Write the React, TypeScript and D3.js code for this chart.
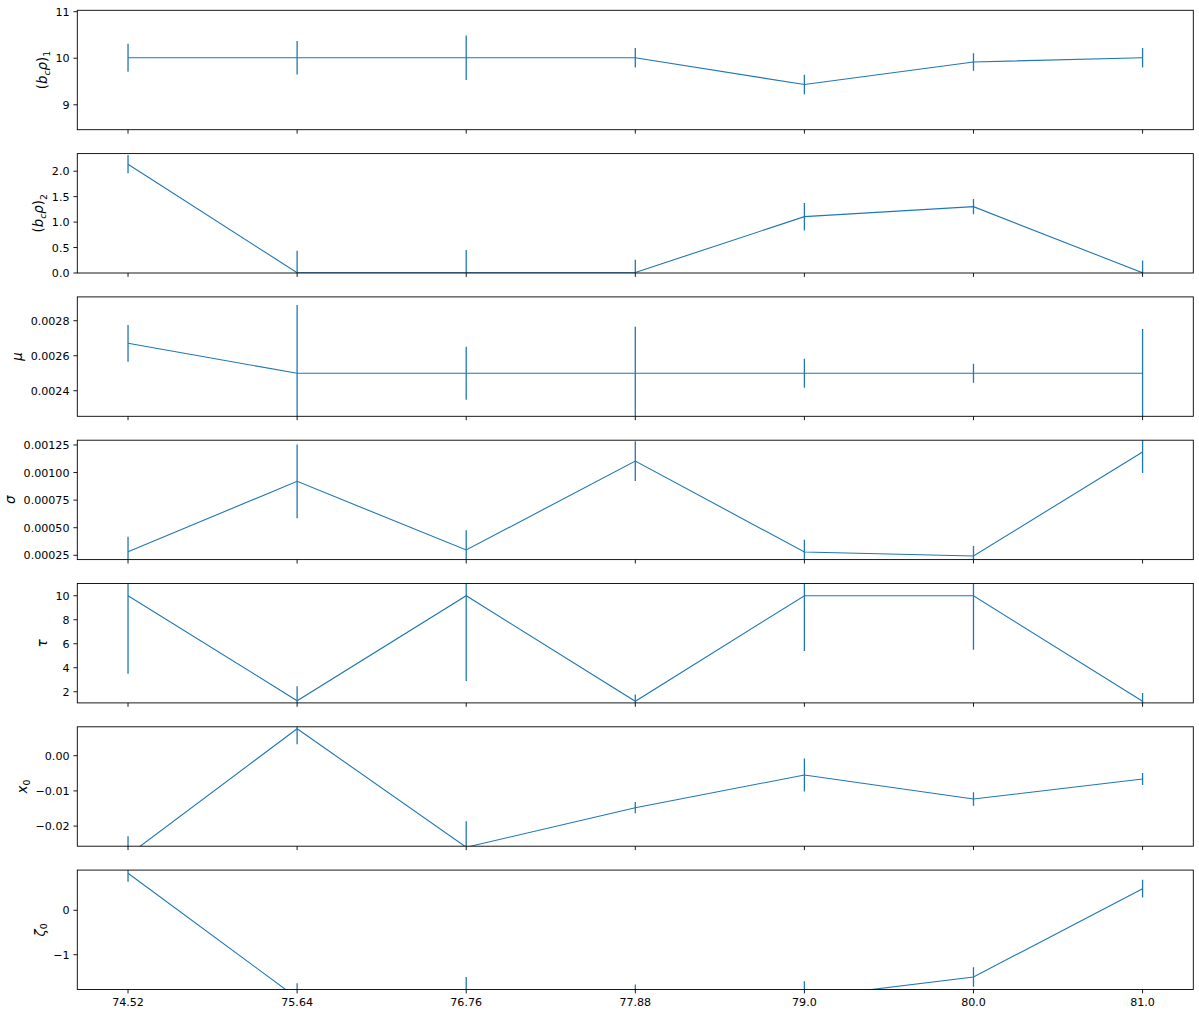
import React from 'react';
import * as d3 from 'd3';

// ---- data ----
const xLabels = ['74.52', '75.64', '76.76', '77.88', '79.0', '80.0', '81.0'];

const bcRho1 = [10.01, 10.01, 10.01, 10.01, 9.435, 9.92, 10.01];
const bcRho1Err = [0.3, 0.36, 0.48, 0.21, 0.21, 0.19, 0.21];
const bcRho1Domain = [8.465, 11.03];
const bcRho1Ticks = [9, 10, 11];
const bcRho1TickLabels = ['9', '10', '11'];

const bcRho2 = [2.137, 0.005, 0.003, 0.01, 1.107, 1.303, 0.004];
const bcRho2Err = [0.18, 0.43, 0.45, 0.25, 0.27, 0.15, 0.24];
const bcRho2Domain = [0, 2.345];
const bcRho2Ticks = [0, 0.5, 1, 1.5, 2];
const bcRho2TickLabels = ['0.0', '0.5', '1.0', '1.5', '2.0'];

const mu = [0.002671, 0.0025, 0.0025, 0.0025, 0.0025, 0.0025, 0.0025];
const muErr = [0.000105, 0.00039, 0.000151, 0.000265, 0.000083, 0.000054, 0.000253];
const muDomain = [0.002254, 0.002936];
const muTicks = [0.0024, 0.0026, 0.0028];
const muTickLabels = ['0.0024', '0.0026', '0.0028'];

const sigma = [0.000283, 0.00092, 0.000298, 0.001104, 0.00028, 0.000244, 0.001186];
const sigmaErr = [0.000136, 0.000335, 0.00018, 0.00018, 0.00011, 0.00009, 0.00019];
const sigmaDomain = [0.000211, 0.001293];
const sigmaTicks = [0.00025, 0.0005, 0.00075, 0.001, 0.00125];
const sigmaTickLabels = ['0.00025', '0.00050', '0.00075', '0.00100', '0.00125'];

const tau = [10, 1.25, 10, 1.2, 10, 10, 1.2];
const tauErr = [6.5, 1.2, 7.1, 0.57, 4.6, 4.5, 0.7];
const tauDomain = [1.07, 11.02];
const tauTicks = [2, 4, 6, 8, 10];
const tauTickLabels = ['2', '4', '6', '8', '10'];

const x0 = [-0.0283, 0.00767, -0.026, -0.01477, -0.00548, -0.0123, -0.00662];
const x0Err = [0.0054, 0.0044, 0.0074, 0.0016, 0.0047, 0.0019, 0.0017];
const x0Domain = [-0.02571, 0.00821];
const x0Ticks = [-0.02, -0.01, 0];
const x0TickLabels = ['\u22120.02', '\u22120.01', '0.00'];

const zeta0 = [0.833, -1.975, -2.0, -2.0, -1.97, -1.502, 0.487];
const zeta0Err = [0.19, 0.33, 0.5, 0.33, 0.37, 0.22, 0.2];
const zeta0Domain = [-1.784, 0.905];
const zeta0Ticks = [-1, 0];
const zeta0TickLabels = ['\u22121', '0'];

const panels = [
  { key: 'bc1', values: bcRho1, errors: bcRho1Err, domain: bcRho1Domain, ticks: bcRho1Ticks, tickLabels: bcRho1TickLabels },
  { key: 'bc2', values: bcRho2, errors: bcRho2Err, domain: bcRho2Domain, ticks: bcRho2Ticks, tickLabels: bcRho2TickLabels },
  { key: 'mu', values: mu, errors: muErr, domain: muDomain, ticks: muTicks, tickLabels: muTickLabels },
  { key: 'sigma', values: sigma, errors: sigmaErr, domain: sigmaDomain, ticks: sigmaTicks, tickLabels: sigmaTickLabels },
  { key: 'tau', values: tau, errors: tauErr, domain: tauDomain, ticks: tauTicks, tickLabels: tauTickLabels },
  { key: 'x0', values: x0, errors: x0Err, domain: x0Domain, ticks: x0Ticks, tickLabels: x0TickLabels },
  { key: 'zeta0', values: zeta0, errors: zeta0Err, domain: zeta0Domain, ticks: zeta0Ticks, tickLabels: zeta0TickLabels },
];

// ---- layout ----
const W = 1199;
const H = 1013;
const LEFT = 77.3;
const RIGHT = 1193.3;
const TOP = 10.3;
const PANEL_H = 119.4;
const PITCH = 143.3;
const TICK_LEN = 3.9;
const TICK_PAD = 3.9;
const LABEL_PAD = 4.4;
const TICK_FS = 11.1;
const LABEL_FS = 13.3;
const FONT = 'DejaVu Sans';
const COLOR = '#1f77b4';

let ctx: CanvasRenderingContext2D | null = null;
function measure(t: string, fs: number) {
  if (!ctx) {
    const c = document.createElement('canvas');
    ctx = c.getContext('2d');
  }
  if (!ctx) return t.length * fs * 0.6;
  ctx.font = `${fs}px "${FONT}"`;
  return ctx.measureText(t).width;
}

function YLabel({ k }: { k: string }) {
  const sub = LABEL_FS * 0.7;
  const it = { fontStyle: 'italic' as const };
  if (k === 'bc1' || k === 'bc2') {
    return (
      <>
        <tspan>(</tspan>
        <tspan style={it}>b</tspan>
        <tspan style={it} fontSize={sub} dy={2.6}>c</tspan>
        <tspan style={it} dy={-2.6}>ρ</tspan>
        <tspan>)</tspan>
        <tspan fontSize={sub} dy={3.2}>{k === 'bc1' ? '1' : '2'}</tspan>
      </>
    );
  }
  if (k === 'mu') return <tspan style={it}>μ</tspan>;
  if (k === 'sigma') return <tspan style={it}>σ</tspan>;
  if (k === 'tau') return <tspan style={it}>τ</tspan>;
  if (k === 'x0')
    return (
      <>
        <tspan style={it}>x</tspan>
        <tspan fontSize={sub} dy={2.6}>0</tspan>
      </>
    );
  return (
    <>
      <tspan style={it}>ζ</tspan>
      <tspan fontSize={sub} dy={2.6}>0</tspan>
    </>
  );
}

export default function App() {
  const x = d3.scaleLinear().domain([-0.3, 6.3]).range([LEFT, RIGHT]);
  const idx = d3.range(xLabels.length);

  return (
    <svg
      width={W}
      height={H}
      style={{ position: 'absolute', left: 0, top: 0, background: '#fff' }}
      fontFamily={FONT}
    >
      <rect x={0} y={0} width={W} height={H} fill="#fff" />
      {panels.map((p, pi) => {
        const top = TOP + pi * PITCH;
        const bottom = top + PANEL_H;
        const y = d3.scaleLinear().domain(p.domain).range([bottom, top]);
        const line = d3
          .line<number>()
          .x((_, i) => x(i))
          .y((v) => y(v));
        const maxW = Math.max(...p.tickLabels.map((t) => measure(t, TICK_FS)));
        const labelRight = LEFT - TICK_LEN - TICK_PAD - maxW - LABEL_PAD;
        const labelX = labelRight - LABEL_FS * 0.3;
        const midY = (top + bottom) / 2;
        const isLast = pi === panels.length - 1;
        return (
          <g key={p.key}>
            <defs>
              <clipPath id={`clip-${pi}`}>
                <rect x={LEFT} y={top} width={RIGHT - LEFT} height={PANEL_H} />
              </clipPath>
            </defs>
            <g clipPath={`url(#clip-${pi})`}>
              <path d={line(p.values) || ''} fill="none" stroke={COLOR} strokeWidth={1.1} />
              {p.values.map((v, i) => (
                <line
                  key={i}
                  x1={x(i)}
                  x2={x(i)}
                  y1={y(v - p.errors[i])}
                  y2={y(v + p.errors[i])}
                  stroke={COLOR}
                  strokeWidth={1.3}
                />
              ))}
            </g>
            <rect
              x={LEFT}
              y={top}
              width={RIGHT - LEFT}
              height={PANEL_H}
              fill="none"
              stroke="#000"
              strokeWidth={0.9}
            />
            {p.ticks.map((t, ti) => (
              <g key={ti}>
                <line x1={LEFT - TICK_LEN} x2={LEFT} y1={y(t)} y2={y(t)} stroke="#000" strokeWidth={0.9} />
                <text
                  x={LEFT - TICK_LEN - TICK_PAD}
                  y={y(t)}
                  dy="0.36em"
                  textAnchor="end"
                  fontSize={TICK_FS}
                  fill="#000"
                >
                  {p.tickLabels[ti]}
                </text>
              </g>
            ))}
            {idx.map((i) => (
              <line
                key={i}
                x1={x(i)}
                x2={x(i)}
                y1={bottom}
                y2={bottom + TICK_LEN}
                stroke="#000"
                strokeWidth={0.9}
              />
            ))}
            {isLast &&
              idx.map((i) => (
                <text
                  key={i}
                  x={x(i)}
                  y={bottom + TICK_LEN + TICK_PAD}
                  dy="0.76em"
                  textAnchor="middle"
                  fontSize={TICK_FS}
                  fill="#000"
                >
                  {xLabels[i]}
                </text>
              ))}
            <text
              transform={`translate(${labelX},${midY}) rotate(-90)`}
              textAnchor="middle"
              fontSize={LABEL_FS}
              fill="#000"
            >
              <YLabel k={p.key} />
            </text>
          </g>
        );
      })}
    </svg>
  );
}
